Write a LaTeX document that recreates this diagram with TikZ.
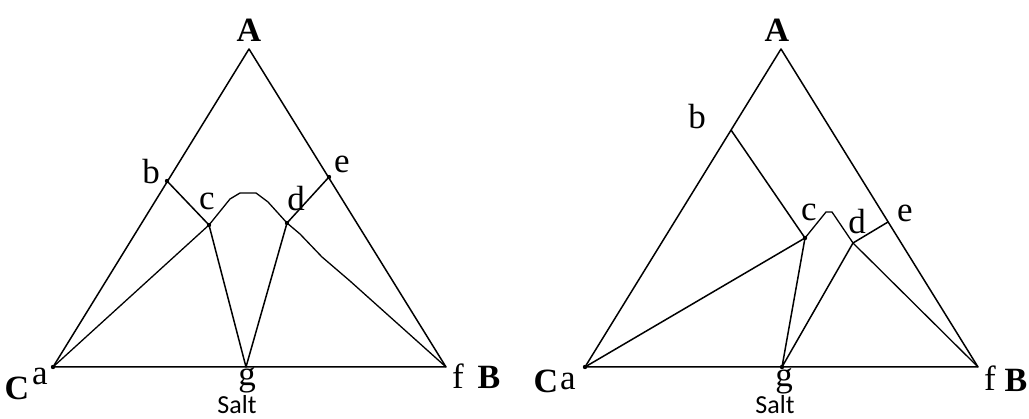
\documentclass[tikz,border=0pt]{standalone}
\usepackage{fontspec}
\setmainfont{Liberation Serif}
\newfontfamily\saltfont{Carlito}
\usepackage{tikz}
\usetikzlibrary{calc}
\tikzset{
  side/.style={line width=1.5pt,line join=round},
  tieln/.style={line width=1.5pt,line join=round},
  curveln/.style={line width=1.3pt,line join=round},
  ptdot/.style={fill=black},
  plab/.style={font=\fontsize{35}{35}\selectfont,inner sep=0pt},
  vlab/.style={font=\fontsize{34}{34}\selectfont\bfseries,inner sep=0pt},
  saltlab/.style={font=\fontsize{26}{26}\saltfont,inner sep=0pt},
}
\begin{document}
\begin{tikzpicture}[x=1pt,y=-1pt]
        \useasboundingbox (0,0) rectangle (1029,419);
        % --- ikkala uchburchak: i, siljish ---
        \foreach \i/\sx in {1/0,2/532}{
          \coordinate (A\i) at (249+\sx,49);
          \coordinate (a\i) at (53+\sx,367);
          \coordinate (f\i) at (446+\sx,367);
          \draw[side] (a\i) -- (A\i) -- (f\i) -- cycle;
        }
        % chap diagramma
        \coordinate (b1) at (167,181);
        \coordinate (e1) at (329,177);
        \coordinate (c1) at (209,225);
        \coordinate (d1) at (287,223);
        \coordinate (g1) at (246,367);
        \draw[tieln] (b1) -- (c1) -- (g1) -- (d1) -- (e1);
        \draw[curveln] (a1) -- (c1) -- (230,199) -- (240,193) -- (256,193)
          -- (268,202) -- (d1) -- (300,234) -- (322,257) -- (350,281) -- (f1);
        \foreach \p in {a1,b1,c1,d1,e1}{ \fill[ptdot] (\p) circle (2.2); }
        % o'ng diagramma
        \coordinate (b2) at (731,130);
        \coordinate (e2) at (888,222);
        \coordinate (c2) at (805,238);
        \coordinate (d2) at (853,243);
        \coordinate (g2) at (782,367);
        \draw[tieln] (b2) -- (c2) -- (g2) -- (d2) -- (e2);
        \draw[tieln] (a2) -- (c2);
        \draw[curveln] (c2) -- (826,212) -- (832,212) -- (d2) -- (f2);
        \foreach \p in {a2,c2,g2}{ \fill[ptdot] (\p) circle (2.2); }
        % yozuvlar (chap)
        \node[vlab] (lA1) at (249,30) {A};
        \node[vlab] (lC1) at (17,388) {C};
        \node[vlab] (lB1) at (489,377) {B};
        \node[plab] (la1) at (40,376) {a};
        \node[plab] (lb1) at (151,172) {b};
        \node[plab] (lc1) at (207,201) {c};
        \node[plab] (ld1) at (296,199) {d};
        \node[plab] (le1) at (342,164) {e};
        \node[plab] (lf1) at (458,376) {f};
        \node[plab] (lg1) at (247,380) {g};
        \node[saltlab] (ls1) at (237,405) {Salt};
        % yozuvlar (o'ng)
        \node[vlab] (lA2) at (777,30) {A};
        \node[vlab] (lC2) at (546,381) {C};
        \node[vlab] (lB2) at (1016,380) {B};
        \node[plab] (la2) at (568,381) {a};
        \node[plab] (lb2) at (697,117) {b};
        \node[plab] (lc2) at (809,212) {c};
        \node[plab] (ld2) at (857,222) {d};
        \node[plab] (le2) at (905,213) {e};
        \node[plab] (lf2) at (990,378) {f};
        \node[plab] (lg2) at (784,381) {g};
        \node[saltlab] (ls2) at (775,405) {Salt};
      \end{tikzpicture}
\end{document}
